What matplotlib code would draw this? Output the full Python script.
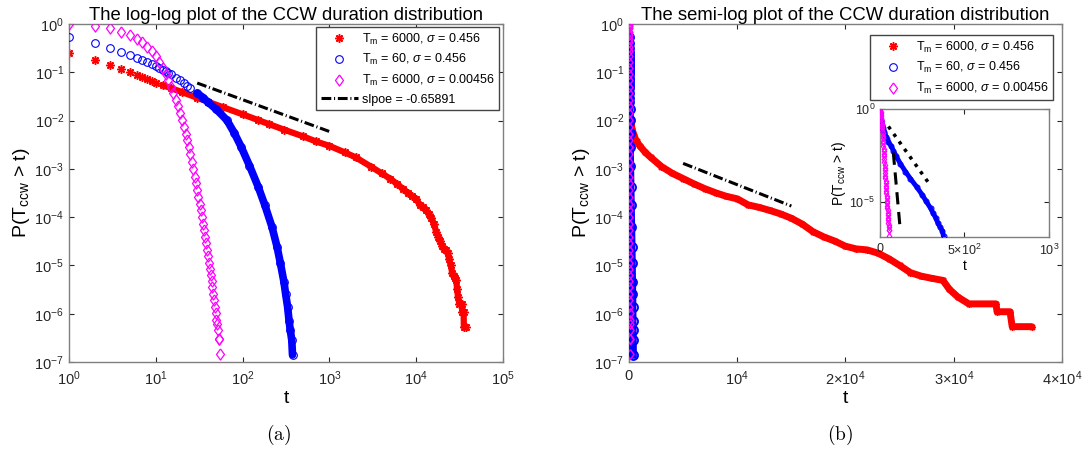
import numpy as np
import matplotlib.pyplot as plt
from matplotlib.ticker import FixedLocator, FixedFormatter, LogLocator, NullLocator

plt.rcParams['font.family'] = ['Liberation Sans', 'DejaVu Sans']
plt.rcParams['mathtext.fontset'] = 'custom'
plt.rcParams['mathtext.rm'] = 'Liberation Sans'
plt.rcParams['mathtext.it'] = 'Liberation Sans:italic'
plt.rcParams['mathtext.default'] = 'regular'

# ---- data ----
# T_m = 6000, sigma = 0.456  (red)
red_t = [1, 2, 3, 4, 5, 6, 7, 8, 9, 10, 12, 15, 20, 30, 40, 60, 100, 150, 200, 300,
         500, 700, 1000, 1500, 2000, 3000, 4000, 5000, 6000, 7000, 8000, 9000, 10000,
         11000, 12000, 13000, 14000, 15000, 16000, 17000, 18000, 19000, 20000, 21000,
         22000, 23000, 24000, 25000, 26000, 27000, 28000, 29000, 29600, 30400, 31400,
         33900, 34000, 35200, 35400, 37200]
red_p = [0.247, 0.18, 0.142, 0.117, 0.1, 0.088, 0.079, 0.072, 0.066, 0.061, 0.054, 0.047,
         0.039, 0.0297, 0.0245, 0.0188, 0.0135, 0.0103, 0.0085, 0.0065, 0.0047, 0.0037,
         0.0030, 0.0022, 0.00174, 0.00112, 8.1e-4, 6.3e-4, 4.9e-4, 3.9e-4, 3.2e-4, 2.7e-4,
         2.4e-4, 1.8e-4, 1.6e-4, 1.38e-4, 1.17e-4, 9.5e-5, 7.2e-5, 5.0e-5, 3.9e-5, 3.2e-5,
         2.5e-5, 2.2e-5, 2.1e-5, 1.8e-5, 1.38e-5, 1.0e-5, 7.1e-6, 6.0e-6, 5.4e-6, 4.9e-6,
         3.2e-6, 2.2e-6, 1.6e-6, 1.6e-6, 1.1e-6, 1.1e-6, 5.4e-7, 5.4e-7]

# T_m = 60, sigma = 0.456  (blue)
blue_t = [1, 2, 3, 4, 5, 6, 7, 8, 9, 10, 11, 12, 13, 14, 15, 17, 19, 21, 23, 25, 30, 35,
          40, 50, 66, 80, 96, 120, 151, 180, 218, 250, 273, 300, 313, 330, 343, 355, 369,
          376]
blue_p = [0.547, 0.41, 0.315, 0.263, 0.228, 0.201, 0.183, 0.166, 0.151, 0.135, 0.122,
          0.112, 0.104, 0.098, 0.091, 0.078, 0.068, 0.060, 0.053, 0.047, 0.037, 0.030,
          0.024, 0.017, 0.0102, 0.0056, 0.0029, 0.00117, 4.3e-4, 1.8e-4, 6.3e-5, 2.4e-5,
          1.1e-5, 4.5e-6, 2.6e-6, 1.4e-6, 7.2e-7, 4.5e-7, 2.8e-7, 1.4e-7]

# T_m = 6000, sigma = 0.00456  (magenta)
mag_t = list(range(1, 56))
mag_p = [1.0, 0.91, 0.81, 0.69, 0.59, 0.50, 0.42, 0.34, 0.28, 0.22, 0.166, 0.125, 0.092,
         0.069, 0.050, 0.037, 0.027, 0.020, 0.0145, 0.0105, 7.5e-3, 5.4e-3, 3.9e-3, 2.8e-3,
         2.0e-3, 1.4e-3, 1.0e-3, 6.8e-4, 5.0e-4, 3.6e-4, 2.6e-4, 1.9e-4, 1.4e-4, 1.0e-4,
         7.3e-5, 5.3e-5, 3.9e-5, 2.9e-5, 2.1e-5, 1.55e-5, 1.15e-5, 8.5e-6, 6.3e-6, 4.7e-6,
         3.5e-6, 2.6e-6, 1.9e-6, 1.35e-6, 1.05e-6, 7.5e-7, 6.0e-7, 4.5e-7, 3.0e-7, 3.0e-7,
         1.5e-7]

# fitted reference lines
slope_fit = -0.65891
loglog_fit_t = [30, 1000]
loglog_fit_p = [0.06, 0.06 * (1000 / 30) ** slope_fit]
semilog_fit_t = [5000, 15000]
semilog_fit_p = [1.3e-3, 1.7e-4]
inset_dot_t = [50, 300]
inset_dot_p = [0.115, 7.4e-5]
inset_dash_t = [79, 120]
inset_dash_p = [4.5e-3, 3.2e-7]

labels = [r'T$_{\rm m}$ = 6000, $\mathit{\sigma}$ = 0.456',
          r'T$_{\rm m}$ = 60, $\mathit{\sigma}$ = 0.456',
          r'T$_{\rm m}$ = 6000, $\mathit{\sigma}$ = 0.00456']
fit_label = 'slpoe = -0.65891'

RED, BLUE, MAG = '#ff0000', '#0000ff', '#ff00ff'
diamond = [(0, 1), (0.72, 0), (0, -1), (-0.72, 0), (0, 1)]
star = (8, 2, 0)
dashdot = (3.2, 0.9, 0.35, 0.9)


def style_axes(ax, fs=10.5):
    for s in ax.spines.values():
        s.set_color('#7f7f7f')
        s.set_linewidth(1.0)
    ax.tick_params(which='both', direction='in', top=True, right=True,
                   length=3.5, width=0.8, color='#262626', labelcolor='#262626',
                   labelsize=fs)
    ax.tick_params(axis='x', pad=5)


def add_legend(ax, handles, texts, anchor):
    leg = ax.legend(handles, texts, loc='upper right', bbox_to_anchor=anchor,
                    borderaxespad=0, fontsize=9, handlelength=3.0, handletextpad=0.3,
                    labelspacing=0.45, borderpad=0.35, fancybox=False, framealpha=1,
                    edgecolor='#444444')
    leg.get_frame().set_linewidth(1.0)
    return leg


fig = plt.figure(figsize=(10.88, 4.51), dpi=100)

# ---------------- (a) log-log ----------------
ax1 = fig.add_axes([0.0634, 0.1973, 0.3989, 0.7494])
ax1.plot(red_t[10:], red_p[10:], '-', color=RED, lw=4.5, solid_capstyle='round', zorder=2)
ax1.plot(red_t, red_p, ls='none', marker=star, ms=6, mew=1.1, color=RED, zorder=2)
ax1.plot(blue_t[20:], blue_p[20:], '-', color=BLUE, lw=5.5, solid_capstyle='round', zorder=3)
ax1.plot(blue_t, blue_p, ls='none', marker='o', ms=5.5, mew=0.8, mfc='none', mec=BLUE, zorder=3)
ax1.plot(mag_t, mag_p, ls='none', marker=diamond, ms=8, mew=0.9, mfc='none', mec=MAG, zorder=4)
ax1.plot(loglog_fit_t, loglog_fit_p, '-.', color='k', lw=2.2, dashes=dashdot, zorder=5)

h_red = ax1.plot([], [], ls='none', marker=star, ms=6, mew=1.1, color=RED)[0]
h_blue = ax1.plot([], [], ls='none', marker='o', ms=5.5, mew=0.8, mfc='none', mec=BLUE)[0]
h_mag = ax1.plot([], [], ls='none', marker=diamond, ms=8, mew=0.9, mfc='none', mec=MAG)[0]
h_fit = ax1.plot([], [], '-.', color='k', lw=2.2, dashes=dashdot)[0]

ax1.set_xscale('log')
ax1.set_yscale('log')
ax1.set_xlim(1, 1e5)
ax1.set_ylim(1e-7, 1)
ax1.xaxis.set_major_locator(LogLocator(base=10, numticks=10))
ax1.yaxis.set_major_locator(LogLocator(base=10, numticks=10))
ax1.xaxis.set_minor_locator(NullLocator())
ax1.yaxis.set_minor_locator(NullLocator())
style_axes(ax1)
ax1.set_title('The log-log plot of the CCW duration distribution', fontsize=13.3, pad=3)
ax1.set_xlabel('t', fontsize=14, labelpad=2)
ax1.set_ylabel(r'P(T$_{\rm ccw}$ > t)', fontsize=14, labelpad=2)
add_legend(ax1, [h_red, h_blue, h_mag, h_fit], labels + [fit_label], (0.991, 0.991))

# ---------------- (b) semi-log ----------------
ax2 = fig.add_axes([0.5781, 0.1973, 0.398, 0.7494])
ax2.plot(red_t, red_p, '-', color=RED, lw=5, solid_capstyle='round', zorder=2)
ax2.plot(red_t, red_p, ls='none', marker=star, ms=5, mew=1.0, color=RED, zorder=2)
ax2.plot(blue_t, blue_p, '-', color=BLUE, lw=5.5, zorder=3)
ax2.plot(blue_t, blue_p, ls='none', marker='o', ms=6.5, mew=1.3, mfc='none', mec=BLUE, zorder=3)
ax2.plot(mag_t, mag_p, ls='none', marker=diamond, ms=7, mew=1.0, mfc='none', mec=MAG, zorder=4)
ax2.plot(semilog_fit_t, semilog_fit_p, '-.', color='k', lw=2.2, dashes=dashdot, zorder=5)
ax2.set_yscale('log')
ax2.set_xlim(0, 4e4)
ax2.set_ylim(1e-7, 1)
ax2.yaxis.set_major_locator(LogLocator(base=10, numticks=10))
ax2.yaxis.set_minor_locator(NullLocator())
ax2.xaxis.set_major_locator(FixedLocator([0, 1e4, 2e4, 3e4, 4e4]))
ax2.xaxis.set_major_formatter(FixedFormatter(['0', r'$10^4$', r'$2{\times}10^4$',
                                              r'$3{\times}10^4$', r'$4{\times}10^4$']))
style_axes(ax2)
ax2.set_title('The semi-log plot of the CCW duration distribution', fontsize=13.3, pad=3)
ax2.set_xlabel('t', fontsize=14, labelpad=2)
ax2.set_ylabel(r'P(T$_{\rm ccw}$ > t)', fontsize=14, labelpad=2)
add_legend(ax2, [h_red, h_blue, h_mag], labels, (0.979, 0.967))

# ---------------- inset ----------------
ax3 = fig.add_axes([0.8088, 0.4745, 0.1553, 0.2838])
ax3.plot(blue_t, blue_p, '-', color=BLUE, lw=3.5, zorder=3)
ax3.plot(blue_t, blue_p, ls='none', marker='o', ms=3.5, mew=0.8, mfc='none', mec=BLUE, zorder=3)
ax3.plot(mag_t, mag_p, ls='none', marker=diamond, ms=4.5, mew=0.8, mfc='none', mec=MAG, zorder=4)
ax3.plot(inset_dot_t, inset_dot_p, ':', color='k', lw=2.5, zorder=5)
ax3.plot(inset_dash_t, inset_dash_p, '--', color='k', lw=2.2, dashes=(4, 2.5), zorder=5)
ax3.set_yscale('log')
ax3.set_xlim(0, 1000)
ax3.set_ylim(1.3e-7, 1)
ax3.yaxis.set_major_locator(FixedLocator([1e-5, 1]))
ax3.yaxis.set_minor_locator(NullLocator())
ax3.xaxis.set_major_locator(FixedLocator([0, 500, 1000]))
ax3.xaxis.set_major_formatter(FixedFormatter(['0', r'$5{\times}10^2$', r'$10^3$']))
style_axes(ax3, fs=9)
ax3.tick_params(axis='x', pad=4)
ax3.set_xlabel('t', fontsize=10, labelpad=1)
ax3.set_ylabel(r'P(T$_{\rm ccw}$ > t)', fontsize=10, labelpad=1)

fig.text(279 / 1088, 1 - 435 / 451, r'$\mathrm{(a)}$', ha='center', va='center',
         fontsize=14, math_fontfamily='cm')
fig.text(840 / 1088, 1 - 435 / 451, r'$\mathrm{(b)}$', ha='center', va='center',
         fontsize=14, math_fontfamily='cm')

fig.savefig('out.png', dpi=100)
